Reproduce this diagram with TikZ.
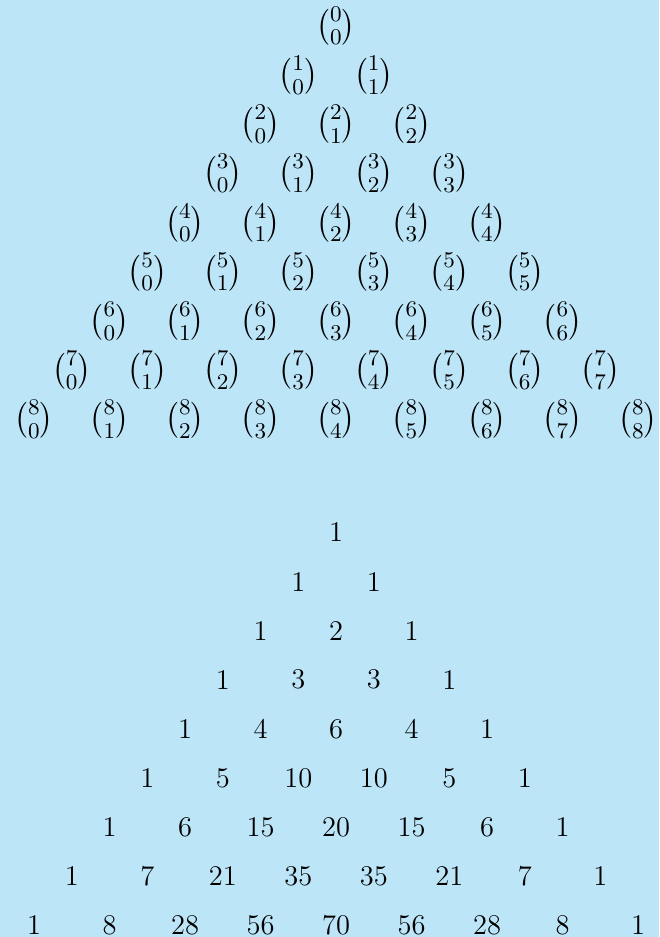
\documentclass[tikz,border=0pt]{standalone}
\usepackage{amsmath}
\definecolor{bgblue}{RGB}{189,229,248}
\begin{document}
\begin{tikzpicture}[x=0.4pt,y=-0.4pt,
  entry/.style={inner sep=0pt, text=black, font=\fontsize{11.4}{13.7}\selectfont},
  coef/.style={entry, font=\fontsize{12.6}{15}\selectfont}]
\fill[bgblue] (0,0) rectangle (659,937);
\useasboundingbox (0,0) rectangle (659,937);
% top triangle: binomial coefficients
\foreach \n in {0,...,8}{
  \foreach \k in {0,...,\n}{
    \node[coef] (t-\n-\k) at ({336+(\k-\n/2)*75.5},{26+\n*49.2}) {$\binom{\n}{\k}$};
  }
}
% bottom triangle: values
\foreach \row [count=\n from 0] in {{1},{1,1},{1,2,1},{1,3,3,1},{1,4,6,4,1},{1,5,10,10,5,1},{1,6,15,20,15,6,1},{1,7,21,35,35,21,7,1},{1,8,28,56,70,56,28,8,1}}{
  \foreach \v [count=\k from 0] in \row {
    \node[entry] (b-\n-\k) at ({336+(\k-\n/2)*75.5},{532.5+\n*49.1}) {\v};
  }
}
\end{tikzpicture}
\end{document}
